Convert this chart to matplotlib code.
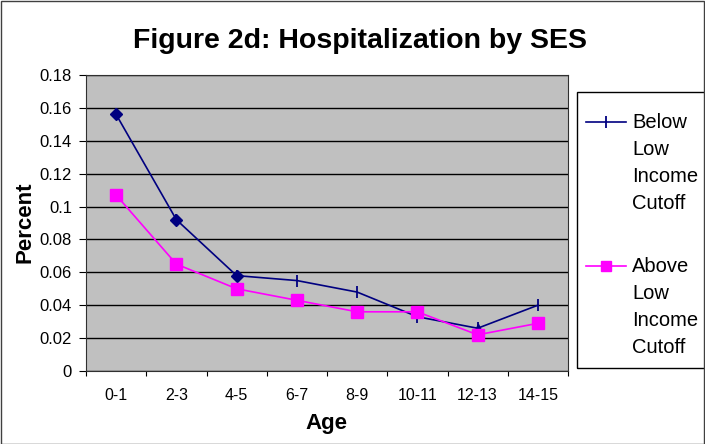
import numpy as np
import matplotlib.pyplot as plt
from matplotlib.lines import Line2D
from matplotlib.patches import Rectangle

plt.rcParams['font.family'] = ['Liberation Sans', 'DejaVu Sans']

# data
ages = ["0-1", "2-3", "4-5", "6-7", "8-9", "10-11", "12-13", "14-15"]
below = [0.156, 0.092, 0.058, 0.055, 0.048, 0.033, 0.026, 0.040]
above = [0.107, 0.065, 0.050, 0.043, 0.036, 0.036, 0.022, 0.029]
y_ticks = [0, 0.02, 0.04, 0.06, 0.08, 0.1, 0.12, 0.14, 0.16, 0.18]
y_labels = ["0", "0.02", "0.04", "0.06", "0.08", "0.1", "0.12", "0.14", "0.16", "0.18"]
series_names = [["Below", "Low", "Income", "Cutoff"], ["Above", "Low", "Income", "Cutoff"]]

navy = "#000080"
pink = "#FF00FF"

W, H = 705, 444
fig = plt.figure(figsize=(W / 100, H / 100), dpi=100)


def fx(px):
    return px / W


def fy(py):
    return 1 - py / H


ax = fig.add_axes([fx(86), fy(371), (568 - 86) / W, (371 - 75) / H])
ax.set_facecolor("#C0C0C0")

x = np.arange(len(ages))
ax.plot(x, below, color=navy, lw=1.2, marker="|", ms=9, mew=1.3, zorder=3)
# Excel drew odd markers on a few points of this series
ax.plot(x[:3], below[:3], ls="none", marker="D", ms=6, color=navy, zorder=4)
ax.plot(x[6:7], below[6:7], ls="none", marker="^", ms=6, color=navy, zorder=4)
ax.plot(x, above, color=pink, lw=1.2, marker="s", ms=8, zorder=5)

ax.set_xlim(-0.5, len(ages) - 0.5)
ax.set_ylim(0, 0.18)
ax.set_yticks(y_ticks)
ax.set_yticklabels(y_labels, fontsize=12)
ax.grid(axis="y", color="black", lw=1)
ax.set_axisbelow(True)

ax.set_xticks(np.arange(len(ages) + 1) - 0.5)
ax.set_xticklabels([])
ax.set_xticks(x, minor=True)
ax.set_xticklabels(ages, minor=True, fontsize=11.5)
ax.tick_params(axis="x", which="minor", length=0, pad=12)
ax.tick_params(axis="x", which="major", length=3.5, color="black")
ax.tick_params(axis="y", length=5, color="black", pad=5)
for s in ax.spines.values():
    s.set_color("#303030")

fig.text(fx(25), fy(222), "Percent", rotation=90, ha="center", va="center",
         fontsize=16, fontweight="bold")
fig.text(fx(326), fy(423), "Age", ha="center", va="center",
         fontsize=16, fontweight="bold")
fig.text(fx(360), fy(48), "Figure 2d: Hospitalization by SES",
         ha="center", va="baseline", fontsize=20.5, fontweight="bold")

# legend box, partly cut by the right edge like the original
fig.patches.append(Rectangle((fx(577), fy(368)), 0.3, (368 - 92) / H,
                             transform=fig.transFigure, fill=False,
                             edgecolor="black", lw=1))
handles = [(navy, dict(marker="|", ms=9, mew=1.3)),
           (pink, dict(marker="s", ms=7))]
for i, (names, (col, mk)) in enumerate(zip(series_names, handles)):
    base = 128 + i * 144
    fig.add_artist(Line2D([fx(586), fx(626)], [fy(base - 6)] * 2, lw=1.2,
                          color=col, transform=fig.transFigure))
    fig.add_artist(Line2D([fx(606)], [fy(base - 6)], lw=0, color=col,
                          transform=fig.transFigure, **mk))
    for j, name in enumerate(names):
        fig.text(fx(632), fy(base + 27 * j), name, ha="left", va="baseline",
                 fontsize=14.5)

fig.patches.append(Rectangle((0.001, 0.001), 0.998, 0.997, transform=fig.transFigure,
                             fill=False, edgecolor="#404040", lw=1))

fig.savefig("out.png", dpi=100)
